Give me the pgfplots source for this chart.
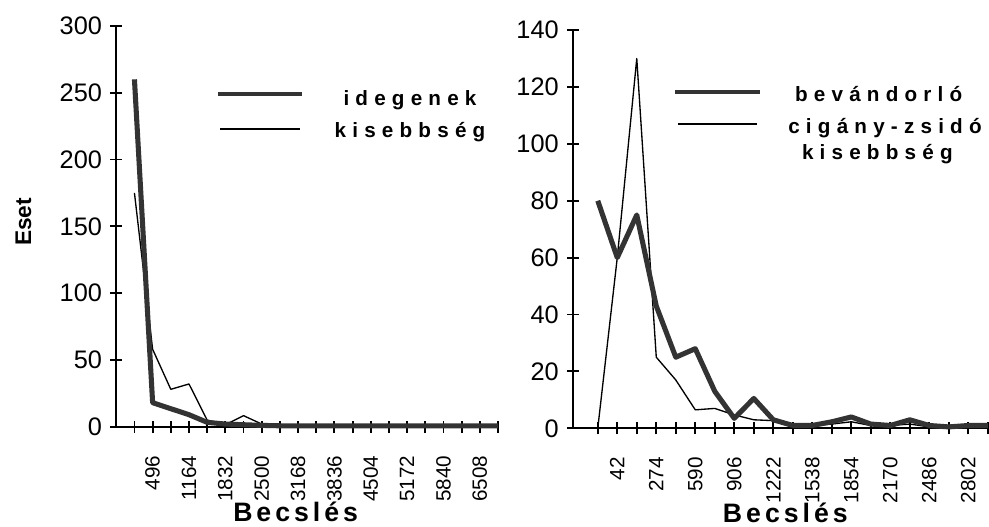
\documentclass[border=0pt]{standalone}
\usepackage{fontspec}
\setmainfont{Liberation Sans}
\usepackage{pgfplots}
\pgfplotsset{compat=1.18}

% left: idegenek / kisebbseg, right: bevandorlo / cigany-zsido kisebbseg
\pgfplotstableread{
pos thick thin
1 260 175
2 18 58
3 13.5 28
4 9 32
5 3.3 5
6 2 1.5
7 1.5 8.3
8 1 2
9 0.7 0.5
10 0.7 0.4
11 0.7 0.4
12 0.7 0.4
13 0.7 0.4
14 0.7 0.4
15 0.7 0.4
16 0.7 0.4
17 0.7 0.4
18 0.7 0.4
19 0.7 0.4
20 0.7 0.4
21 0.7 0.4
}\leftdata
\pgfplotstableread{
pos thick thin
1 80 0
2 60 60
3 75 130
4 43 25
5 25 17
6 28 6.5
7 13 7
8 3.5 4.7
9 10.5 3
10 3 2.7
11 1 1
12 1 1
13 2.3 1.5
14 4 2.3
15 1.5 1
16 1 1
17 3 1.5
18 1 0.5
19 0.5 0.5
20 1 0.5
21 1 0.5
}\rightdata

\newfontfamily\legfont[LetterSpace=30]{Liberation Sans Bold}
\newcommand\legsize{\fontsize{15.5}{16}\selectfont\legfont}

\pgfplotsset{
  chart/.style={
    scale only axis,
    axis lines=left,
    axis line style={-, line width=1.6pt},
    tick style={line width=1.4pt, black},
    major tick length=9pt,
    tick align=center,
    clip=false,
    /pgf/number format/assume math mode=true,
    yticklabel style={font=\fontsize{19}{20}\selectfont, inner sep=0pt},
    yticklabel shift=6pt,
    xticklabel style={font=\fontsize{15.5}{16}\selectfont, rotate=90, anchor=east, inner sep=0pt},
    xticklabel shift=17pt,
    xtick={1,...,21},
    xlabel={Becslés},
    xlabel style={font=\fontsize{20}{22}\selectfont\bfseries\addfontfeature{LetterSpace=15}, anchor=base},
  },
  thickline/.style={line width=3.8pt, black!80, line join=round, no marks},
  thinline/.style={line width=1pt, black, line join=round, no marks},
}

\begin{document}
\begin{tikzpicture}
\begin{axis}[chart,
  at={(87.2pt,75.2pt)}, anchor=south west,
  width=286.3pt, height=300.6pt,
  xmin=0, xmax=21, ymin=0, ymax=300,
  ytick={0,50,...,300},
  xticklabels={,496,,1164,,1832,,2500,,3168,,3836,,4504,,5172,,5840,,6508,},
  xlabel style={at={(axis description cs:0.47,-0.237)}},
  ylabel={Eset},
  ylabel style={font=\fontsize{17}{18}\selectfont\bfseries, at={(axis description cs:-0.243,0.511)}, anchor=center},
]
\addplot[thinline] table[x=pos, y=thin] {\leftdata};
\addplot[thickline] table[x=pos, y=thick] {\leftdata};
\end{axis}

\begin{axis}[chart,
  at={(429.75pt,74.0pt)}, anchor=south west,
  width=311.1pt, height=298.7pt,
  xmin=-0.27, xmax=21, ymin=0, ymax=140,
  ytick={0,20,...,140},
  xticklabels={,42,,274,,590,,906,,1222,,1538,,1854,,2170,,2486,,2802,},
  xlabel style={at={(axis description cs:0.512,-0.236)}},
]
\addplot[thinline] table[x=pos, y=thin] {\rightdata};
\addplot[thickline] table[x=pos, y=thick] {\rightdata};
\end{axis}

% legends
\draw[line width=3.2pt, black!80] (163.5pt,324.75pt) -- (226.5pt,324.75pt);
\draw[line width=1pt] (165pt,298.5pt) -- (225pt,298.5pt);
\node[anchor=base, inner sep=0pt, font=\legsize] at (307.5pt,315.75pt) {idegenek};
\node[anchor=base, inner sep=0pt, font=\legsize] at (307.5pt,291.75pt) {kisebbség};

\draw[line width=3.2pt, black!80] (506.25pt,326.25pt) -- (570pt,326.25pt);
\draw[line width=1pt] (508.5pt,302.25pt) -- (567.75pt,302.25pt);
\node[anchor=base, inner sep=0pt, font=\legsize] at (659pt,319pt) {bevándorló};
\node[anchor=base, inner sep=0pt, font=\legsize] at (663.75pt,295.25pt) {cigány\hspace{0.3em}-\hspace{0.3em}zsidó};
\node[anchor=base, inner sep=0pt, font=\legsize] at (658pt,275.25pt) {kisebbség};

\pgfresetboundingbox
\path[use as bounding box] (0,0) rectangle (741.75pt,395.25pt);
\end{tikzpicture}
\end{document}
